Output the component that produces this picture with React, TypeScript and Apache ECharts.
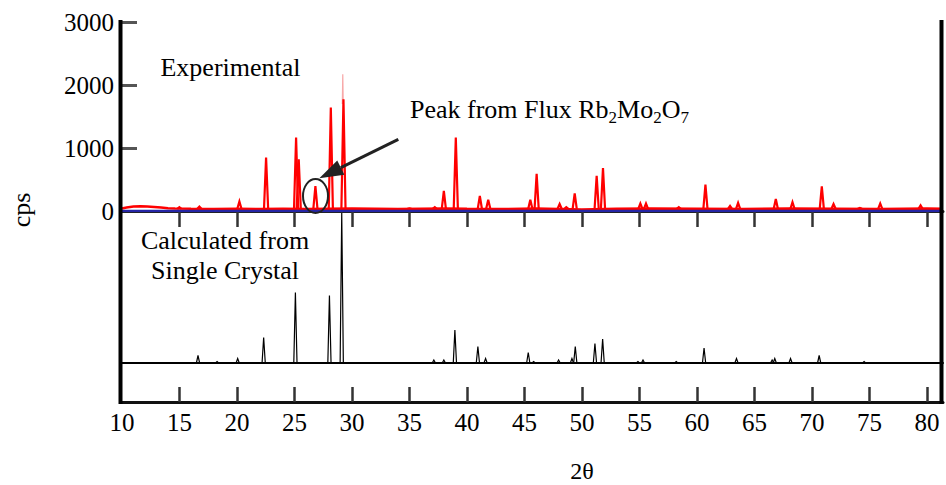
import React, { useEffect, useRef } from 'react';
import * as echarts from 'echarts';

// ---- data ----
const xMin = 10;
const xMax = 81.4;
const xTickValues = [15, 20, 25, 30, 35, 40, 45, 50, 55, 60, 65, 70, 75, 80];
const xLabelValues = [10, 15, 20, 25, 30, 35, 40, 45, 50, 55, 60, 65, 70, 75, 80];
const yTickValues = [1000, 2000, 3000];

// experimental pattern: peak positions (2θ) and peak heights (cps)
const expPos = [14.99, 16.73, 20.21, 22.53, 25.14, 25.37, 26.82, 28.16, 29.26, 35.0, 37.2, 37.99, 39.03, 41.12, 41.85, 45.51, 46.06, 48.06, 48.64, 49.37, 51.28, 51.83, 55.08, 55.57, 58.42, 60.74, 62.88, 63.58, 66.86, 68.31, 70.86, 71.88, 74.17, 75.94, 79.45];
const expCps = [60, 70, 150, 848, 1165, 820, 397, 1641, 1773, 40, 60, 320, 1165, 240, 180, 180, 590, 110, 60, 280, 560, 680, 120, 120, 60, 420, 80, 130, 190, 140, 390, 110, 50, 120, 90];
// faint spike on top of the 29° peak
const spikePos = [29.2];
const spikeCps = [2170];
// experimental background
const bgPos = [10, 10.4, 11, 11.6, 12.2, 12.8, 13.4, 14, 14.6, 16, 18, 20, 22, 24, 26, 28, 30, 32, 34, 36, 38, 40, 43, 46, 50, 53, 56, 60, 64, 68, 72, 76, 80, 81.4];
const bgCps = [40, 55, 70, 75, 70, 65, 55, 45, 40, 35, 30, 35, 30, 35, 30, 35, 40, 35, 30, 35, 40, 35, 30, 40, 25, 35, 40, 35, 30, 40, 35, 30, 40, 35];

// calculated pattern (relative intensity, strongest = 100)
const calcPos = [16.61, 18.27, 20.06, 22.32, 25.08, 28.04, 29.11, 37.12, 37.99, 38.95, 40.95, 41.62, 45.33, 45.8, 47.97, 49.13, 49.42, 51.13, 51.8, 54.87, 55.31, 58.2, 60.62, 63.44, 66.54, 66.77, 68.14, 70.63, 74.54];
const calcInt = [5, 1, 3, 17, 47, 45, 100, 2, 2, 22, 11, 3, 7, 1, 2, 3, 11, 13, 16, 1, 2, 1, 10, 3, 2, 3, 3, 5, 1];

const FONT = 'Liberation Serif';

function peakRenderer(halfWidth: number, base: number, color: string, width: number) {
  return (params: any, api: any) => {
    const x = api.value(0);
    const h = api.value(1);
    const p0 = api.coord([x - halfWidth, base]);
    const p1 = api.coord([x, h]);
    const p2 = api.coord([x + halfWidth, base]);
    return {
      type: 'polyline',
      shape: { points: [p0, p1, p2] },
      style: { stroke: color, lineWidth: width, fill: null },
    };
  };
}

function label(text: string, x: number, y: number, size: number) {
  return {
    type: 'text', x, y, z: 10,
    style: { text, fontSize: size, fontFamily: FONT, fill: '#000', align: 'center', verticalAlign: 'middle' },
  };
}

export default function App() {
  const ref = useRef<HTMLDivElement>(null);

  useEffect(() => {
    if (!ref.current) return;
    const chart = echarts.init(ref.current, null, { renderer: 'svg' });

    // arrow geometry (annotation)
    const tail = [398.3, 139.3];
    const tip = [319.3, 178.3];
    const dx = tip[0] - tail[0];
    const dy = tip[1] - tail[1];
    const len = Math.sqrt(dx * dx + dy * dy);
    const ux = dx / len;
    const uy = dy / len;
    const headLen = 24;
    const headHalf = 8;
    const bx = tip[0] - headLen * ux;
    const by = tip[1] - headLen * uy;
    const nx = -uy * headHalf;
    const ny = ux * headHalf;

    const option: any = {
      animation: false,
      backgroundColor: '#fff',
      textStyle: { fontFamily: FONT },
      grid: [
        { left: 122, right: 3, top: 22, height: 189 },
        { left: 122, right: 3, top: 213, height: 150 },
        { left: 122, right: 3, top: 363, height: 39 },
        { left: 122, right: 3, top: 22, height: 376 },
      ],
      xAxis: [
        {
          gridIndex: 0, type: 'value', position: 'top', min: xMin, max: xMax,
          axisLine: { show: true, lineStyle: { color: '#222', width: 3 } },
          axisTick: { show: true, inside: true, length: 16, customValues: xTickValues, lineStyle: { color: '#333', width: 2.5 } },
          axisLabel: { show: false },
          splitLine: { show: false },
        },
        {
          gridIndex: 1, type: 'value', min: xMin, max: xMax,
          axisLine: { show: true, lineStyle: { color: '#000', width: 2 } },
          axisTick: { show: false },
          axisLabel: { show: false },
          splitLine: { show: false },
        },
        {
          gridIndex: 2, type: 'value', min: xMin, max: xMax,
          axisLine: { show: true, lineStyle: { color: '#111', width: 3 } },
          axisTick: { show: true, inside: true, length: 15, customValues: xTickValues, lineStyle: { color: '#333', width: 2.5 } },
          axisLabel: {
            show: true, customValues: xLabelValues, fontSize: 25, fontFamily: FONT, color: '#000', margin: 8,
            formatter: (v: number) => String(v),
          },
          splitLine: { show: false },
        },
        {
          gridIndex: 3, type: 'value', min: xMin, max: xMax, show: false,
        },
      ],
      yAxis: [
        {
          gridIndex: 0, type: 'value', min: 0, max: 3000, interval: 1000,
          axisLine: { show: false },
          axisTick: { show: true, inside: true, length: 15, customValues: yTickValues, lineStyle: { color: '#555', width: 3 } },
          axisLabel: { fontSize: 25, fontFamily: FONT, color: '#000', margin: 8, formatter: (v: number) => String(v) },
          splitLine: { show: false },
        },
        {
          gridIndex: 1, type: 'value', min: 0, max: 100,
          axisLine: { show: false }, axisTick: { show: false }, axisLabel: { show: false }, splitLine: { show: false },
        },
        {
          gridIndex: 2, type: 'value', min: 0, max: 1,
          axisLine: { show: false }, axisTick: { show: false }, axisLabel: { show: false }, splitLine: { show: false },
        },
        {
          gridIndex: 3, type: 'value', min: 0, max: 1,
          name: 'cps', nameLocation: 'middle', nameRotate: 90, nameGap: 102,
          nameTextStyle: { fontSize: 26, fontFamily: FONT, color: '#000' },
          axisLine: { show: false }, axisTick: { show: false }, axisLabel: { show: false }, splitLine: { show: false },
        },
      ],
      series: [
        {
          type: 'line', xAxisIndex: 0, yAxisIndex: 0,
          data: bgPos.map((x, i) => [x, bgCps[i]]),
          showSymbol: false, lineStyle: { color: '#ff0000', width: 2.5 }, z: 2,
        },
        {
          type: 'custom', xAxisIndex: 0, yAxisIndex: 0,
          data: expPos.map((x, i) => [x, expCps[i]]),
          encode: { x: 0, y: 1 },
          renderItem: peakRenderer(0.18, 35, '#ff0000', 2.2), z: 3,
        },
        {
          type: 'custom', xAxisIndex: 0, yAxisIndex: 0,
          data: spikePos.map((x, i) => [x, spikeCps[i]]),
          encode: { x: 0, y: 1 },
          renderItem: peakRenderer(0.04, 1700, '#f7a8a8', 1.2), z: 2,
        },
        {
          type: 'line', xAxisIndex: 0, yAxisIndex: 0,
          data: [[xMin, 0], [xMax, 0]],
          showSymbol: false, lineStyle: { color: '#2525a5', width: 2.5 }, z: 4,
        },
        {
          type: 'custom', xAxisIndex: 1, yAxisIndex: 1,
          data: calcPos.map((x, i) => [x, calcInt[i]]),
          encode: { x: 0, y: 1 },
          renderItem: peakRenderer(0.14, 0, '#000', 1.2), z: 3,
        },
      ],
      graphic: [
        { type: 'line', shape: { x1: 120.5, y1: 20, x2: 120.5, y2: 404 }, style: { stroke: '#000', lineWidth: 4 }, z: 10 },
        { type: 'line', shape: { x1: 941.5, y1: 20, x2: 941.5, y2: 404 }, style: { stroke: '#000', lineWidth: 4 }, z: 10 },
        { type: 'ellipse', shape: { cx: 315.5, cy: 196, rx: 12.5, ry: 17 }, style: { fill: null, stroke: '#222', lineWidth: 2 }, z: 10 },
        { type: 'line', shape: { x1: tail[0], y1: tail[1], x2: bx, y2: by }, style: { stroke: '#222', lineWidth: 3 }, z: 10 },
        {
          type: 'polygon',
          shape: { points: [[tip[0], tip[1]], [bx + nx, by + ny], [bx - nx, by - ny]] },
          style: { fill: '#222' }, z: 10,
        },
        label('Experimental', 230.5, 67, 26),
        label('Calculated from', 225, 240, 26),
        label('Single Crystal', 225, 270, 26),
        {
          type: 'text', x: 410, y: 96, z: 10,
          style: {
            text: '{a|Peak from Flux Rb}{s|2}{a|Mo}{s|2}{a|O}{s|7}',
            align: 'left', verticalAlign: 'top',
            rich: {
              a: { fontSize: 26, fontFamily: FONT, fill: '#000', lineHeight: 30, verticalAlign: 'top' },
              s: { fontSize: 17, fontFamily: FONT, fill: '#000', lineHeight: 17, padding: [14, 0, 0, 0], verticalAlign: 'bottom' },
            },
          },
        },
        label('2θ', 582, 471, 24),
      ],
    };

    chart.setOption(option);
    return () => chart.dispose();
  }, []);

  return (
    <div
      ref={ref}
      style={{ position: 'absolute', left: 0, top: 0, width: 946, height: 485 }}
    />
  );
}
